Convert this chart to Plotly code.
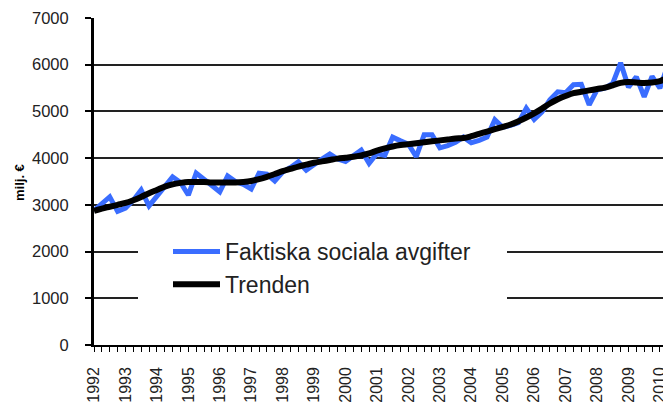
import plotly.graph_objects as go

# quarterly values, 1992Q1 onwards (milj. €)
faktiska = [2880, 3020, 3170, 2860, 2930, 3100, 3320, 2980,
            3200, 3400, 3600, 3480, 3210, 3680, 3550, 3420,
            3280, 3620, 3500, 3440, 3340, 3680, 3660, 3510,
            3700, 3800, 3920, 3740, 3870, 3980, 4090, 3980,
            3930, 4050, 4170, 3890, 4100, 4060, 4450, 4370,
            4300, 4030, 4500, 4500, 4220, 4270, 4340, 4450,
            4330, 4380, 4450, 4820, 4660, 4700, 4760, 5070,
            4830, 4990, 5250, 5420, 5400, 5570, 5580, 5140,
            5460, 5500, 5600, 6040, 5520, 5740, 5310, 5750,
            5500, 5990, 5500]

trenden = [2870, 2920, 2960, 3000, 3040, 3100, 3170, 3250,
           3320, 3390, 3440, 3470, 3490, 3490, 3490, 3480,
           3480, 3480, 3480, 3490, 3510, 3550, 3600, 3660,
           3720, 3770, 3820, 3860, 3900, 3930, 3960, 3990,
           4010, 4030, 4060, 4100, 4160, 4210, 4250, 4280,
           4300, 4320, 4340, 4360, 4380, 4400, 4420, 4430,
           4470, 4520, 4570, 4620, 4670, 4720, 4790, 4870,
           4960, 5060, 5170, 5260, 5330, 5390, 5420, 5450,
           5480, 5510, 5560, 5610, 5630, 5620, 5610, 5620,
           5650, 5720, 5780]

years = list(range(1992, 2011))
y_ticks = [0, 1000, 2000, 3000, 4000, 5000, 6000, 7000]

x = [1992 + i / 4 for i in range(len(faktiska))]

FONT = "Liberation Sans, Arial, sans-serif"

# page body adds an 8px offset, so the plot area is placed with that in mind
PW, PH = 585, 327          # plot area size in px
PX_PER_YEAR = 31.44


def px(wx):
    return (wx - 94) / PW


def py(wy):
    return (345 - wy) / PH


fig = go.Figure()
fig.add_trace(go.Scatter(x=x, y=faktiska, mode="lines", name="Faktiska sociala avgifter",
                         line=dict(color="#3a6dff", width=5)))
fig.add_trace(go.Scatter(x=x, y=trenden, mode="lines", name="Trenden",
                         line=dict(color="black", width=6, shape="spline")))

# white box behind the legend, hides the gridlines there
fig.add_shape(type="rect", xref="paper", yref="paper",
              x0=px(138), x1=px(507), y0=py(306), y1=py(228),
              fillcolor="white", line=dict(width=0), layer="above")

fig.add_annotation(text="<b>milj. €</b>", textangle=-90, showarrow=False,
                   xref="paper", yref="paper", x=px(19), y=py(183),
                   xanchor="center", yanchor="middle",
                   font=dict(family=FONT, size=13, color="black"))

fig.update_layout(
    width=671, height=403,
    margin=dict(l=86, r=0, t=10, b=66),
    paper_bgcolor="white", plot_bgcolor="white",
    font=dict(family=FONT, color="black"),
    showlegend=True,
    legend=dict(x=px(168), y=py(230), xanchor="left", yanchor="top",
                bgcolor="rgba(0,0,0,0)", font=dict(family=FONT, size=23, color="#222"),
                itemwidth=47, tracegroupgap=0),
    xaxis=dict(range=[1992, 1992 + PW / PX_PER_YEAR], tickmode="array", tickvals=years,
               ticktext=[str(yv) for yv in years], tickangle=-90,
               tickfont=dict(family=FONT, size=16, color="#222"),
               ticks="outside", ticklen=5, tickcolor="black", tickwidth=1,
               ticklabelstandoff=9,
               minor=dict(dtick=0.25, tick0=1992, ticks="outside", ticklen=5,
                          tickcolor="black", tickwidth=1, showgrid=False),
               showgrid=False, zeroline=False, showline=True, linecolor="black",
               linewidth=1.5, automargin=False),
    yaxis=dict(range=[0, 7000], tickmode="array", tickvals=y_ticks,
               tickfont=dict(family=FONT, size=16.5, color="#222"),
               ticks="outside", ticklen=6, tickcolor="black", tickwidth=1.5,
               ticklabelstandoff=13,
               showgrid=True, gridcolor="#222", gridwidth=1.5,
               zeroline=False, showline=True, linecolor="black", linewidth=3,
               automargin=False),
)

fig.write_html("out.html")
